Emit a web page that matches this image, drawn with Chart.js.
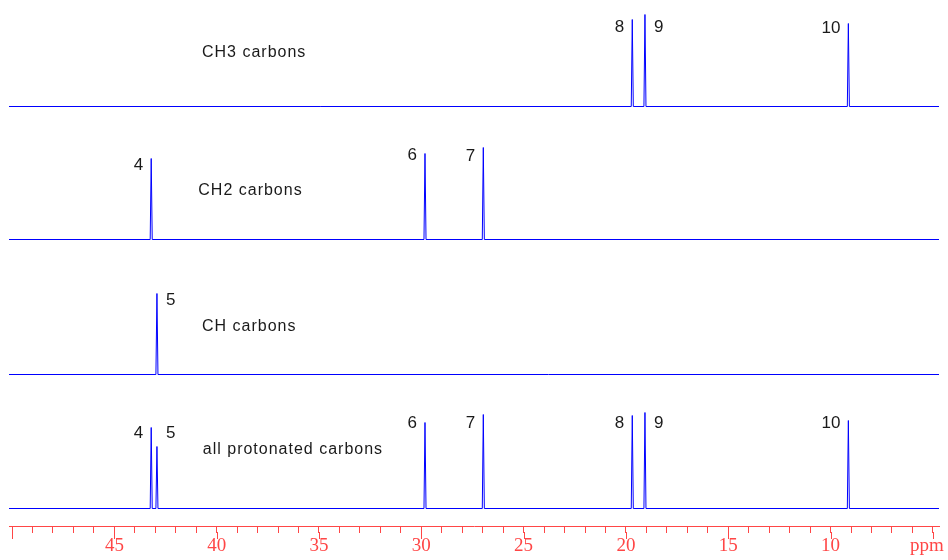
<!DOCTYPE html>
<html>
<head>
<meta charset="utf-8">
<script src="https://cdn.jsdelivr.net/npm/chart.js@4.4.1/dist/chart.umd.min.js"></script>
<style>
  html, body { margin: 0; padding: 0; background: #fff; }
  #wrap { width: 948px; height: 560px; }
</style>
</head>
<body>
<div id="wrap"><canvas id="spectrum"></canvas></div>
<script>
// ppm axis, left end to right end
const PPM_LEFT = 50.15;
const PPM_RIGHT = 4.7;

// peak positions (ppm), heights and numbers, one set per trace
const CH3_PPM = [19.69, 19.07, 9.13];
const CH3_HEIGHT = [87, 92, 83];
const CH3_NUM = ['8', '9', '10'];

const CH2_PPM = [43.20, 29.82, 26.97];
const CH2_HEIGHT = [81, 86, 92];
const CH2_NUM = ['4', '6', '7'];

const CH_PPM = [42.92];
const CH_HEIGHT = [81];
const CH_NUM = ['5'];

const ALL_PPM = [43.20, 42.92, 29.82, 26.97, 19.69, 19.07, 9.13];
const ALL_HEIGHT = [81, 62, 86, 94, 93, 96, 88];
const ALL_NUM = ['4', '5', '6', '7', '8', '9', '10'];

const TRACE_NAMES = ['CH3 carbons', 'CH2 carbons', 'CH carbons', 'all protonated carbons'];
const TICK_LABELS = ['45', '40', '35', '30', '25', '20', '15', '10'];
const UNIT_LABEL = 'ppm';

// layout / style
const BLUE = '#0000ff';
const RED = 'rgb(255,70,70)';
const BASELINES = [419.5, 286.5, 151.5, 17.5];   // trace baseline above the axis line
const NAME_RISE = [49.5, 44.5, 43.5, 54.5];
const NAME_PPM = [40.72, 40.90, 40.72, 40.68];
const NUM_RISE = [[79, 79, 78], [74, 84, 83], [74], [75, 75, 85, 85, 85, 85, 85]];
const RIGHT_SIDE = ['5', '9'];
const FOOT = 0.05;

const traces = [
  { ppm: CH3_PPM, h: CH3_HEIGHT, num: CH3_NUM },
  { ppm: CH2_PPM, h: CH2_HEIGHT, num: CH2_NUM },
  { ppm: CH_PPM, h: CH_HEIGHT, num: CH_NUM },
  { ppm: ALL_PPM, h: ALL_HEIGHT, num: ALL_NUM }
];

function tracePoints(t, base) {
  const pts = [{ x: PPM_LEFT, y: base }];
  t.ppm.forEach((p, i) => {
    pts.push({ x: p + FOOT, y: base });
    pts.push({ x: p, y: base + t.h[i] });
    pts.push({ x: p - FOOT, y: base });
  });
  pts.push({ x: PPM_RIGHT, y: base });
  return pts;
}

const labelPlugin = {
  id: 'labels',
  afterDraw(chart) {
    const ctx = chart.ctx;
    const xs = chart.scales.x;
    const ys = chart.scales.y;
    ctx.save();

    // longer ticks every 5 ppm
    ctx.strokeStyle = RED;
    ctx.lineWidth = 1;
    const bottom = chart.chartArea.bottom;
    for (let v = 5; v <= 50; v += 5) {
      const x = Math.round(xs.getPixelForValue(v)) + 0.5;
      ctx.beginPath();
      ctx.moveTo(x, bottom + 6);
      ctx.lineTo(x, bottom + 13);
      ctx.stroke();
    }

    // unit label under the 5 ppm tick
    ctx.fillStyle = RED;
    ctx.font = '19px "Liberation Serif", "Times New Roman", serif';
    ctx.textAlign = 'right';
    ctx.textBaseline = 'middle';
    ctx.fillText(UNIT_LABEL, xs.getPixelForValue(5) + 11, bottom + 20);

    // trace names
    ctx.fillStyle = '#1a1a1a';
    ctx.font = '16px "Liberation Sans", Arial, sans-serif';
    ctx.letterSpacing = '1px';
    ctx.textBaseline = 'alphabetic';
    ctx.textAlign = 'left';
    TRACE_NAMES.forEach((name, i) => {
      ctx.fillText(name, xs.getPixelForValue(NAME_PPM[i]), ys.getPixelForValue(BASELINES[i] + NAME_RISE[i]));
    });

    // peak numbers
    ctx.letterSpacing = '0px';
    ctx.font = '17px "Liberation Sans", Arial, sans-serif';
    ctx.textBaseline = 'middle';
    traces.forEach((t, i) => {
      t.num.forEach((n, j) => {
        const x = xs.getPixelForValue(t.ppm[j]);
        const y = ys.getPixelForValue(BASELINES[i] + NUM_RISE[i][j]);
        if (RIGHT_SIDE.includes(n)) {
          ctx.textAlign = 'left';
          ctx.fillText(n, x + 9, y);
        } else {
          ctx.textAlign = 'right';
          ctx.fillText(n, x - 8, y);
        }
      });
    });
    ctx.restore();
  }
};

new Chart(document.getElementById('spectrum'), {
  type: 'line',
  data: {
    datasets: traces.map((t, i) => ({
      label: TRACE_NAMES[i],
      data: tracePoints(t, BASELINES[i]),
      borderColor: BLUE,
      borderWidth: 1,
      pointRadius: 0,
      tension: 0,
      fill: false
    }))
  },
  options: {
    responsive: true,
    maintainAspectRatio: false,
    animation: false,
    layout: { padding: { left: 9, right: 9, top: 0, bottom: 0 } },
    plugins: { legend: { display: false }, tooltip: { enabled: false } },
    scales: {
      x: {
        type: 'linear',
        reverse: true,
        min: PPM_RIGHT,
        max: PPM_LEFT,
        afterFit: s => { s.height = 34; s.paddingLeft = 0; s.paddingRight = 0; },
        border: { display: true, color: RED, width: 1 },
        grid: { display: true, drawOnChartArea: false, drawTicks: true, tickLength: 7, tickColor: RED },
        ticks: {
          stepSize: 1,
          includeBounds: false,
          autoSkip: false,
          maxRotation: 0,
          padding: 2,
          color: RED,
          font: { family: '"Liberation Serif", "Times New Roman", serif', size: 19 },
          callback: v => TICK_LABELS.includes(String(v)) ? String(v) : ''
        }
      },
      y: { display: false, min: 0, max: 526 }
    }
  },
  plugins: [labelPlugin]
});
</script>
</body>
</html>
